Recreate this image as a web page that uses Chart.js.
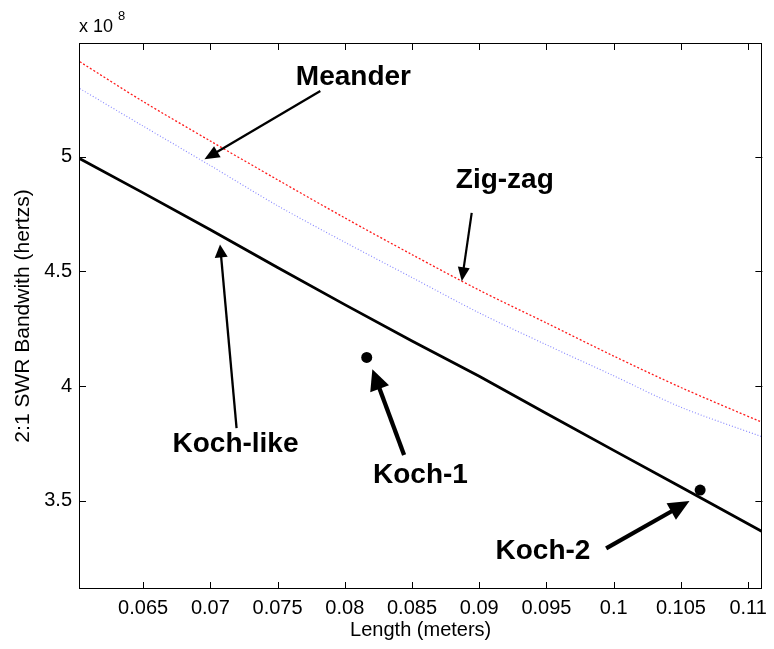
<!DOCTYPE html>
<html>
<head>
<meta charset="utf-8">
<script src="https://cdn.jsdelivr.net/npm/chart.js@4.4.1/dist/chart.umd.min.js"></script>
<style>
  html, body { margin: 0; padding: 0; background: #ffffff; }
  #wrap { width: 774px; height: 649px; position: relative; }
</style>
</head>
<body>
<div id="wrap"><canvas id="c" width="774" height="649"></canvas></div>
<script>
// Antenna length (m) against 2:1 SWR bandwidth (units of 1e8 Hz)
const lengths  = [0.0603, 0.065, 0.070, 0.075, 0.080, 0.085, 0.090, 0.095, 0.100, 0.105, 0.111];
const meander  = [5.296, 5.133, 4.961, 4.786, 4.627, 4.473, 4.319, 4.180, 4.045, 3.908, 3.780];
const zigzag   = [5.413, 5.240, 5.068, 4.899, 4.733, 4.573, 4.418, 4.275, 4.131, 3.994, 3.843];
const kochLike = [4.991, 4.842, 4.681, 4.517, 4.355, 4.197, 4.043, 3.881, 3.720, 3.560, 3.368];

// Measured Koch prototypes (Koch-1, Koch-2)
const kochLengths   = [0.08163, 0.10643];
const kochBandwidth = [4.125, 3.547];

// Axis ticks
const xTickValues = [0.065, 0.07, 0.075, 0.08, 0.085, 0.09, 0.095, 0.1, 0.105, 0.11];
const xTickLabels = ['0.065', '0.07', '0.075', '0.08', '0.085', '0.09', '0.095', '0.1', '0.105', '0.11'];
const yTickValues = [3.5, 4, 4.5, 5];
const yTickLabels = ['3.5', '4', '4.5', '5'];

// Callout labels: text, label centre, arrow tail, arrow tip (data units)
const calloutText  = ['Meander', 'Zig-zag', 'Koch-like', 'Koch-1', 'Koch-2'];
const calloutAt    = [[0.08064, 5.344], [0.09190, 4.895], [0.07187, 3.745], [0.08563, 3.611], [0.09474, 3.279]];
const arrowFrom    = [[0.07818, 5.286], [0.08944, 4.755], [0.07195, 3.817], [0.08441, 3.700], [0.09944, 3.293]];
const arrowTo      = [[0.06956, 4.988], [0.08870, 4.457], [0.07072, 4.617], [0.08205, 4.074], [0.10564, 3.499]];
const arrowWeight  = [2.3, 2.2, 2.3, 4.3, 4.2];
const arrowHead    = [[15, 13], [14, 12], [13, 13], [21, 20], [21, 19]];

const FONT = "'Liberation Sans', Arial, sans-serif";

function pairs(xs, ys) { return xs.map((x, i) => ({ x: x, y: ys[i] })); }

const frame = {
  id: 'frame',
  afterDatasetsDraw(chart) {
    const { ctx, chartArea: a, scales: { x, y } } = chart;
    ctx.save();
    ctx.strokeStyle = '#000';
    ctx.lineWidth = 1;
    // box
    ctx.strokeRect(Math.round(a.left) + 0.5, Math.round(a.top) + 0.5,
                   Math.round(a.right - a.left) - 1, Math.round(a.bottom - a.top) - 1);
    // inward tick marks on all four sides
    const tl = 7;
    ctx.beginPath();
    xTickValues.forEach(v => {
      const px = Math.round(x.getPixelForValue(v)) + 0.5;
      ctx.moveTo(px, a.bottom); ctx.lineTo(px, a.bottom - tl);
      ctx.moveTo(px, a.top); ctx.lineTo(px, a.top + tl);
    });
    yTickValues.forEach(v => {
      const py = Math.round(y.getPixelForValue(v)) + 0.5;
      ctx.moveTo(a.left, py); ctx.lineTo(a.left + tl, py);
      ctx.moveTo(a.right, py); ctx.lineTo(a.right - tl, py);
    });
    ctx.stroke();

    // exponent label
    ctx.fillStyle = '#000';
    ctx.textBaseline = 'alphabetic';
    ctx.textAlign = 'left';
    ctx.font = '18px ' + FONT;
    ctx.fillText('x 10', a.left, 32);
    ctx.font = '13px ' + FONT;
    ctx.fillText('8', a.left + 39, 20);

    // callouts
    calloutText.forEach((t, i) => {
      const x0 = x.getPixelForValue(arrowFrom[i][0]), y0 = y.getPixelForValue(arrowFrom[i][1]);
      const x1 = x.getPixelForValue(arrowTo[i][0]),   y1 = y.getPixelForValue(arrowTo[i][1]);
      const dx = x1 - x0, dy = y1 - y0, len = Math.hypot(dx, dy);
      const ux = dx / len, uy = dy / len;
      const [hl, hw] = arrowHead[i];
      const bx = x1 - ux * hl, by = y1 - uy * hl;
      ctx.lineWidth = arrowWeight[i];
      ctx.lineCap = 'butt';
      ctx.beginPath();
      ctx.moveTo(x0, y0); ctx.lineTo(bx + ux * 1, by + uy * 1);
      ctx.stroke();
      ctx.beginPath();
      ctx.moveTo(x1, y1);
      ctx.lineTo(bx - uy * hw / 2, by + ux * hw / 2);
      ctx.lineTo(bx + uy * hw / 2, by - ux * hw / 2);
      ctx.closePath();
      ctx.fill();

      ctx.font = 'bold 28px ' + FONT;
      ctx.textAlign = 'center';
      ctx.textBaseline = 'middle';
      ctx.fillText(t, x.getPixelForValue(calloutAt[i][0]), y.getPixelForValue(calloutAt[i][1]));
    });
    ctx.restore();
  }
};

new Chart(document.getElementById('c'), {
  type: 'scatter',
  data: {
    datasets: [
      { label: 'Zig-zag', data: pairs(lengths, zigzag), showLine: true, borderColor: 'rgba(255,0,0,0.9)',
        borderWidth: 1.3, borderDash: [2, 2], pointRadius: 0, tension: 0.3 },
      { label: 'Meander', data: pairs(lengths, meander), showLine: true, borderColor: 'rgba(110,110,255,0.85)',
        borderWidth: 1.1, borderDash: [1, 2], pointRadius: 0, tension: 0.3 },
      { label: 'Koch-like', data: pairs(lengths, kochLike), showLine: true, borderColor: '#000',
        borderWidth: 2.8, pointRadius: 0, tension: 0 },
      { label: 'Koch', data: pairs(kochLengths, kochBandwidth), showLine: false,
        pointRadius: 5.5, pointBackgroundColor: '#000', pointBorderColor: '#000', pointBorderWidth: 0 }
    ]
  },
  options: {
    responsive: false,
    animation: false,
    devicePixelRatio: 1,
    layout: { padding: { top: 43, right: 7, left: 0, bottom: 0 } },
    plugins: { legend: { display: false }, tooltip: { enabled: false } },
    scales: {
      x: {
        type: 'linear',
        min: 0.06023, max: 0.11106,
        afterBuildTicks: s => { s.ticks = xTickValues.map(v => ({ value: v })); },
        afterFit: s => { s.height = 60; },
        grid: { display: false, drawTicks: false },
        border: { display: false },
        ticks: {
          autoSkip: false, maxRotation: 0, padding: 7, color: '#000',
          font: { family: FONT, size: 20 },
          callback: (v, i) => xTickLabels[i]
        },
        title: { display: true, text: 'Length (meters)', color: '#000',
                 font: { family: FONT, size: 20 }, padding: { top: 0, bottom: 7 } }
      },
      y: {
        type: 'linear',
        min: 3.116, max: 5.495,
        afterBuildTicks: s => { s.ticks = yTickValues.map(v => ({ value: v })); },
        afterFit: s => { s.width = 79; },
        grid: { display: false, drawTicks: false },
        border: { display: false },
        ticks: {
          autoSkip: false, padding: 7, color: '#000',
          font: { family: FONT, size: 20 },
          callback: (v, i) => yTickLabels[i]
        },
        title: { display: true, text: '2:1 SWR Bandwith (hertzs)', color: '#000',
                 font: { family: FONT, size: 21 }, padding: { top: 11, bottom: 0 } }
      }
    }
  },
  plugins: [frame]
});
</script>
</body>
</html>
